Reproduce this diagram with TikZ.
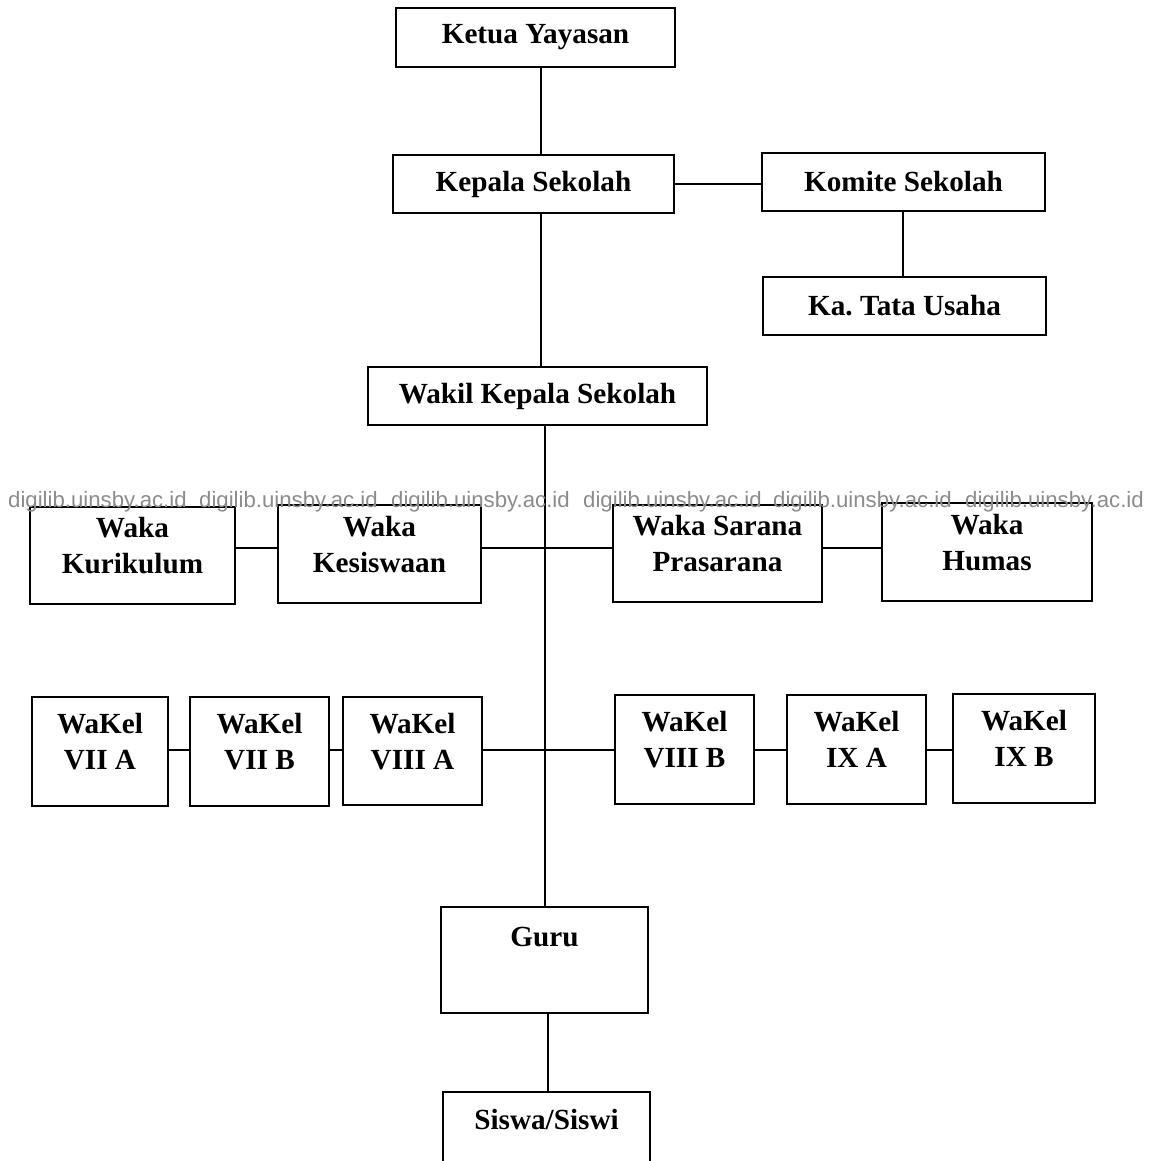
\documentclass[tikz,border=0pt]{standalone}
\usepackage{fontspec}
\setmainfont{Liberation Serif}
\newfontfamily\wmfont{Liberation Sans}
\frenchspacing
\begin{document}
\begin{tikzpicture}[x=1pt,y=-1pt,
  box/.style={draw=black,line width=2.4pt,rectangle,inner sep=0pt,align=center,
    font=\fontsize{29.2}{36}\selectfont\bfseries},
  twoline/.style={execute at end node={\rule[-20pt]{0pt}{20pt}}},
  link/.style={draw=black,line width=2.4pt},
  wm/.style={anchor=base west,inner sep=0pt,text=black!45,font=\wmfont\fontsize{22.2}{22}\selectfont}]
\clip (0,0) rectangle (1159,1161);
\fill[white] (0,0) rectangle (1159,1161);

% boxes
\node[box,minimum width=279,minimum height=59] (ketua) at (535.5,37.5) {Ketua Yayasan};
\node[box,minimum width=281,minimum height=58] (kepala) at (533.5,184) {Kepala Sekolah};
\node[box,minimum width=283,minimum height=58] (komite) at (903.5,182) {Komite Sekolah};
\node[box,minimum width=283,minimum height=58] (tu) at (904.5,306) {Ka.\ Tata Usaha};
\node[box,minimum width=339,minimum height=58] (wakil) at (537.5,396) {Wakil Kepala Sekolah};

\node[box,twoline,minimum width=205,minimum height=97] (kur) at (132.5,555.5) {Waka\\Kurikulum};
\node[box,twoline,minimum width=203,minimum height=98] (kes) at (379.5,554) {Waka\\Kesiswaan};
\node[box,twoline,minimum width=209,minimum height=97] (sar) at (717.5,553.5) {Waka Sarana\\Prasarana};
\node[box,twoline,minimum width=210,minimum height=98] (hum) at (987,552) {Waka\\Humas};

\node[box,twoline,minimum width=136,minimum height=109] (k7a) at (100,751.5) {WaKel\\VII A};
\node[box,twoline,minimum width=139,minimum height=109] (k7b) at (259.5,751.5) {WaKel\\VII B};
\node[box,twoline,minimum width=139,minimum height=108] (k8a) at (412.5,751) {WaKel\\VIII A};
\node[box,twoline,minimum width=139,minimum height=109] (k8b) at (684.5,749.5) {WaKel\\VIII B};
\node[box,twoline,minimum width=139,minimum height=109] (k9a) at (856.5,749.5) {WaKel\\IX A};
\node[box,twoline,minimum width=142,minimum height=109] (k9b) at (1024,748.5) {WaKel\\IX B};

\node[box,minimum width=207,inner ysep=10pt,text height=29.5pt,text depth=56.5pt] (guru) at (544.5,960) {Guru};
\node[box,minimum width=207,inner ysep=10pt,text height=27.5pt,text depth=60.5pt] (siswa) at (546.5,1146) {Siswa/Siswi};

% trunk coordinates
\coordinate (t1) at (541,0);
\coordinate (t2) at (545,0);
\coordinate (t3) at (548,0);
\coordinate (tk) at (903,0);
\coordinate (r1) at (0,548);
\coordinate (r2) at (0,750);

% connectors
\draw[link] (ketua.south -| t1) -- (kepala.north -| t1);
\draw[link] (kepala.south -| t1) -- (wakil.north -| t1);
\draw[link] (wakil.south -| t2) -- (guru.north -| t2);
\draw[link] (guru.south -| t3) -- (siswa.north -| t3);
\draw[link] (kepala.east) -- (kepala.east -| komite.west);
\draw[link] (komite.south -| tk) -- (tu.north -| tk);

\draw[link] (kur.east |- r1) -- (kes.west |- r1);
\draw[link] (kes.east |- r1) -- (sar.west |- r1);
\draw[link] (sar.east |- r1) -- (hum.west |- r1);

\draw[link] (k7a.east |- r2) -- (k7b.west |- r2);
\draw[link] (k7b.east |- r2) -- (k8a.west |- r2);
\draw[link] (k8a.east |- r2) -- (k8b.west |- r2);
\draw[link] (k8b.east |- r2) -- (k9a.west |- r2);
\draw[link] (k9a.east |- r2) -- (k9b.west |- r2);

% watermark
\node[wm] (wm1) at (8,507) {digilib.uinsby.ac.id};
\node[wm] (wm2) at (199,507) {digilib.uinsby.ac.id};
\node[wm] (wm3) at (391,507) {digilib.uinsby.ac.id};
\node[wm] (wm4) at (583,507) {digilib.uinsby.ac.id};
\node[wm] (wm5) at (773,507) {digilib.uinsby.ac.id};
\node[wm] (wm6) at (965,507) {digilib.uinsby.ac.id};
\end{tikzpicture}
\end{document}
